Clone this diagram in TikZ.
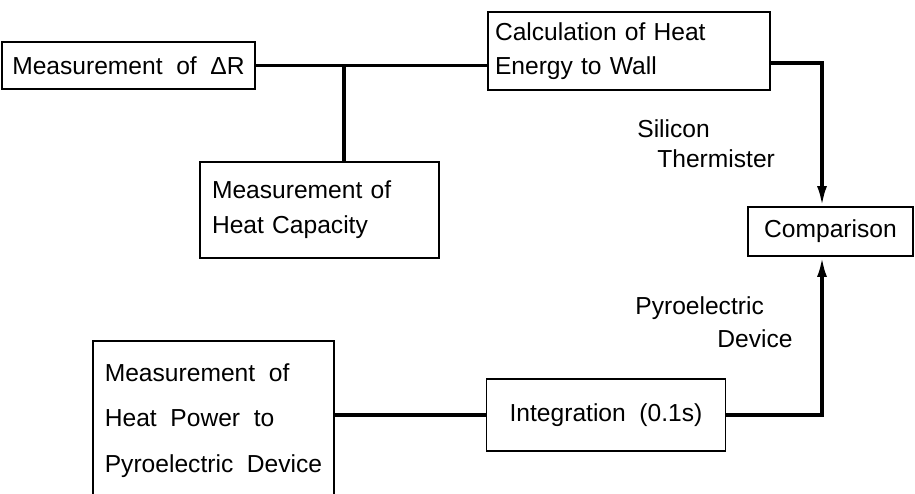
\documentclass[tikz,border=0pt]{standalone}
\usepackage{fontspec}
\setmainfont{Liberation Sans}[WordSpace=2]
\usetikzlibrary{arrows.meta}
\begin{document}
\begin{tikzpicture}[x=0.02cm,y=-0.02cm,every node/.style={font=\fontsize{14}{17}\selectfont,align=left,inner sep=0pt},box/.style={draw,line width=1.1pt,inner xsep=0.2cm},wire/.style={line width=1.9pt},arr/.style={wire,-{Latex[length=4mm,width=2mm]}}]
\useasboundingbox (0,0) rectangle (915,493);
\clip (0,0) rectangle (915,493);
\node[box,minimum width=4.82cm,minimum height=0.94cm] (deltaR) at (128.5,65.5) {Measurement of ΔR};
\node[box,text width=4.3cm,inner xsep=0.24cm,minimum height=1.92cm] (capacity) at (319.5,210) {Measurement of\\[3pt]Heat Capacity};
\node[box,text width=5.36cm,inner xsep=0.14cm,minimum height=1.56cm] (calc) at (629,51) {Calculation of Heat\\[2pt]Energy to Wall};
\node[box,minimum width=3.3cm,minimum height=0.98cm] (compare) at (830.5,231.5) {Comparison};
\node[box,minimum width=4.82cm,minimum height=3.18cm] (power) at (213.5,420.5) {Measurement of\\[9pt]Heat Power to\\[9pt]Pyroelectric Device};
\node[box,minimum width=4.78cm,minimum height=1.44cm] (integ) at (606,415) {Integration (0.1s)};
\node[anchor=west] (silicon) at (637,144) {Silicon\\\hspace{0.4cm}Thermister};
\node[anchor=west] (pyro) at (635,322) {Pyroelectric\\[2pt]\hspace{1.64cm}Device};
\coordinate (tee) at (344,65.5);
\coordinate (bend) at (822,63);
\draw[wire] (deltaR.east) -- (deltaR.east -| calc.west);
\draw[wire] (tee) -- (capacity.north -| tee);
\draw[arr] (calc.east |- bend) -| (compare.north -| bend);
\draw[wire] (power.east |- integ) -- (integ.west);
\draw[arr] (integ.east) -| (compare.south -| bend);
\end{tikzpicture}
\end{document}
